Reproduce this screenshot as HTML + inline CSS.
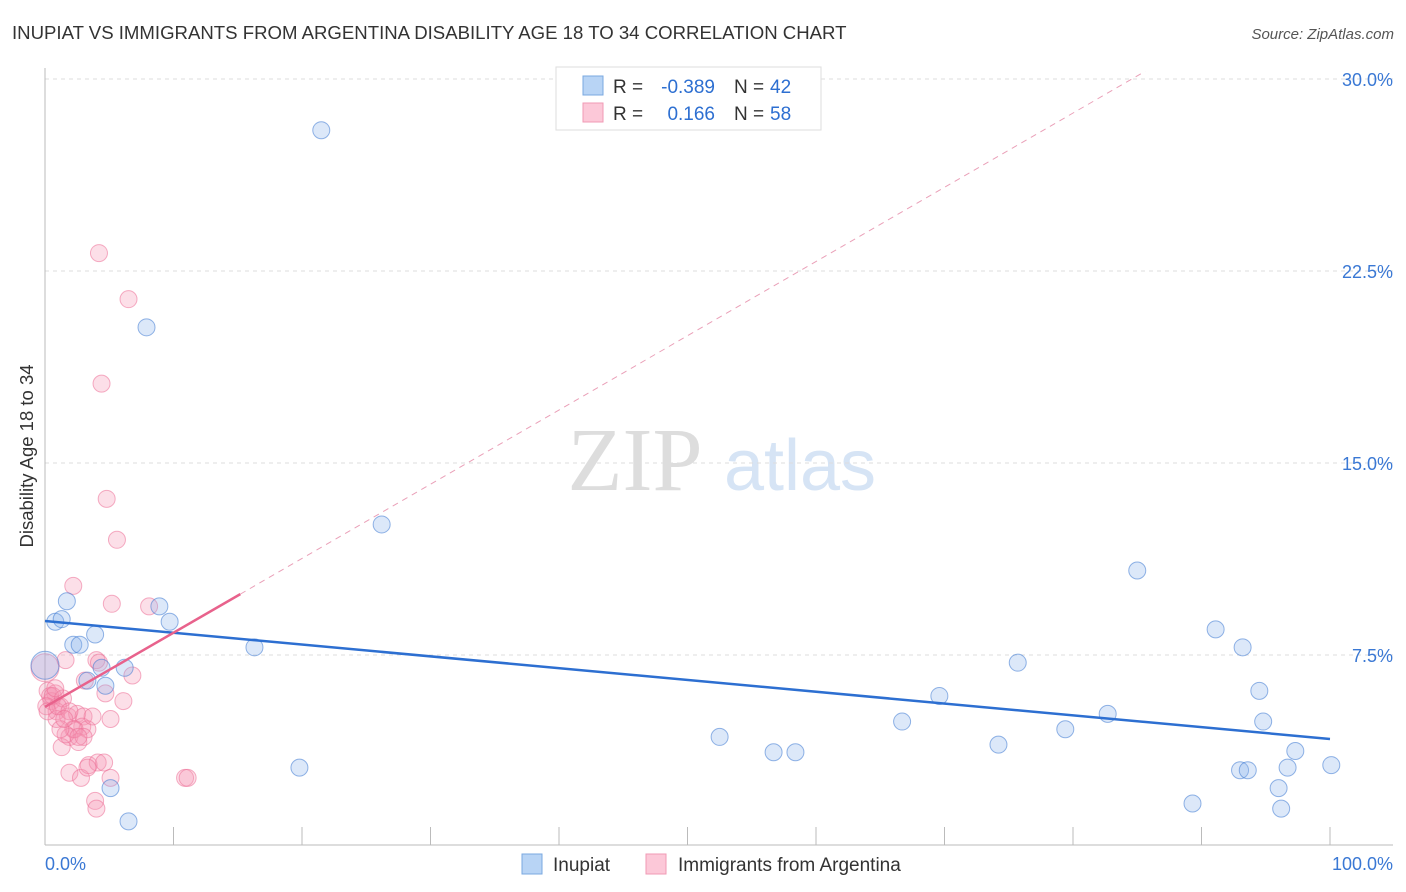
<!DOCTYPE html>
<html><head><meta charset="utf-8"><style>
body{margin:0;background:#fff;font-family:"Liberation Sans",sans-serif}
svg{display:block}
</style></head><body>
<svg id="chart" width="1406" height="892" xmlns="http://www.w3.org/2000/svg">
<text x="12" y="39" font-size="18.6" fill="#333">INUPIAT VS IMMIGRANTS FROM ARGENTINA DISABILITY AGE 18 TO 34 CORRELATION CHART</text>
<text x="1394" y="39" font-size="15" fill="#555" font-style="italic" text-anchor="end">Source: ZipAtlas.com</text>
<text x="635" y="490" font-size="90" fill="#ddd" font-family="Liberation Serif" text-anchor="middle">ZIP</text>
<text x="800" y="490" font-size="72" fill="#d6e4f5" text-anchor="middle">atlas</text>
<g id="grid"></g><g id="axes"></g><g id="pts"></g><g id="lines"></g>
<text x="33" y="456" font-size="18.5" fill="#333" text-anchor="middle" transform="rotate(-90 33 456)">Disability Age 18 to 34</text>
<text x="45" y="870" font-size="18" fill="#3a78d4">0.0%</text>
<text x="1393" y="870" font-size="18" fill="#3a78d4" text-anchor="end">100.0%</text>
<g font-size="19">
<rect x="556" y="67" width="265" height="63" fill="#fff" stroke="#ddd"/>
<rect x="583" y="76" width="20" height="19" fill="#b8d4f5" stroke="#7aa8e0"/>
<rect x="583" y="103" width="20" height="19" fill="#fcc8d8" stroke="#f09ab4"/>
<text x="613" y="93" fill="#333">R =</text>
<text x="715" y="93" fill="#2d6fd1" text-anchor="end">-0.389</text>
<text x="734" y="93" fill="#333">N =</text>
<text x="770" y="93" fill="#2d6fd1">42</text>
<text x="613" y="120" fill="#333">R =</text>
<text x="715" y="120" fill="#2d6fd1" text-anchor="end">0.166</text>
<text x="734" y="120" fill="#333">N =</text>
<text x="770" y="120" fill="#2d6fd1">58</text>
</g>
<g>
<rect x="522" y="854" width="20" height="20" fill="#b8d4f5" stroke="#7aa8e0"/>
<text x="553" y="871" font-size="19" fill="#333">Inupiat</text>
<rect x="646" y="854" width="20" height="20" fill="#fcc8d8" stroke="#f09ab4"/>
<text x="678" y="871" font-size="19" fill="#333">Immigrants from Argentina</text>
</g>
</svg>
<script>
const yTicks=[7.5,15,22.5,30];
const yTickLabels=["7.5%","15.0%","22.5%","30.0%"];
const blueX=[21.5,7.9,26.2,0.8,1.3,1.7,3.9,8.9,9.7,2.2,2.7,4.4,6.2,3.3,4.7,0,16.3,5.1,6.5,19.8,52.5,56.7,58.4,66.7,69.6,74.2,75.7,79.4,82.7,85.0,89.3,91.1,93.2,93.0,93.6,94.5,94.8,96.0,96.7,97.3,96.2,100.1];
const blueY=[28.0,20.3,12.6,8.8,8.9,9.6,8.3,9.4,8.8,7.9,7.9,7.0,7.0,6.5,6.3,7.1,7.8,2.3,1.0,3.1,4.3,3.7,3.7,4.9,5.9,4.0,7.2,4.6,5.2,10.8,1.7,8.5,7.8,3.0,3.0,6.1,4.9,2.3,3.1,3.75,1.5,3.2];
const pinkX=[4.2,6.5,4.4,4.8,5.6,2.2,5.2,8.1,1.6,4.0,4.2,3.1,4.7,6.8,6.1,0,0.2,0.8,0.5,1.2,0.9,1.8,0.9,2.5,3.0,2.9,3.3,2.2,1.9,2.6,1.3,1.9,2.8,3.4,4.1,3.3,4.6,5.1,3.9,4.0,10.9,11.1,0.4,0.6,0.1,0.2,1.4,2.3,1.6,1.0,0.8,1.9,3.0,1.2,2.6,5.1,1.5,3.7];
const pinkY=[23.2,21.4,18.1,13.6,12.0,10.2,9.5,9.4,7.3,7.3,7.2,6.5,6.0,6.7,5.7,7.0,6.1,6.0,5.7,5.5,5.3,5.1,5.0,5.2,5.1,4.7,4.6,4.6,4.3,4.1,3.9,2.9,2.7,3.2,3.3,3.1,3.3,2.7,1.8,1.5,2.7,2.7,5.9,5.9,5.5,5.3,5.8,4.6,4.4,5.5,6.2,5.3,4.3,4.6,4.3,5.0,5.0,5.1];
const blueTrend=[8.83,4.22];   // value at x=0 and x=100
const pinkTrend=[5.47,0.29]; // intercept, slope per %
const pinkSolidEnd=15.2;
const NS="http://www.w3.org/2000/svg";
const X=v=>45+v*12.85, Y=v=>847-v*25.6;
function mk(p,t,a){const e=document.createElementNS(NS,t);for(const k in a)e.setAttribute(k,a[k]);document.getElementById(p).appendChild(e);return e;}
yTicks.forEach((t,i)=>{
 const g=mk('grid','line',{x1:45,x2:1393,y1:Y(t),y2:Y(t),stroke:'#ddd','stroke-dasharray':'4,4'});
 
 
 const l=mk('grid','text',{x:1393,y:Y(t)+7,'font-size':18,fill:'#3a78d4','text-anchor':'end'});
 l.textContent=yTickLabels[i];
 
 
});
const ax=mk('axes','line',{x1:45,x2:45,y1:68,y2:845,stroke:'#bbb'});


const bx=mk('axes','line',{x1:45,x2:1393,y1:845,y2:845,stroke:'#bbb'});


for(let i=1;i<=10;i++){const t=mk('axes','line',{x1:X(i*10),x2:X(i*10),y1:827,y2:845,stroke:'#bbb'});
 
 }
pinkX.forEach((v,i)=>{const c=mk('pts','circle',{cx:X(v),cy:Y(pinkY[i]),r:v===0?14:8.5,fill:'rgba(246,150,180,0.3)',stroke:'rgba(236,110,150,0.55)'});
 
 });
blueX.forEach((v,i)=>{const c=mk('pts','circle',{cx:X(v),cy:Y(blueY[i]),r:v===0?14:8.5,fill:'rgba(140,180,235,0.3)',stroke:'rgba(60,120,210,0.55)'});
 
 });
const bl=mk('lines','line',{x1:X(0),y1:Y(blueTrend[0]),x2:X(100),y2:Y(blueTrend[1]),stroke:'#2d6fd1','stroke-width':2.5});


const py=x=>pinkTrend[0]+pinkTrend[1]*x;
const xEnd=(30.3-pinkTrend[0])/pinkTrend[1];
const pd=mk('lines','line',{x1:X(pinkSolidEnd),y1:Y(py(pinkSolidEnd)),x2:X(xEnd),y2:Y(py(xEnd)),stroke:'#eaa0b8','stroke-width':1,'stroke-dasharray':'6,5'});


const pl=mk('lines','line',{x1:X(0),y1:Y(py(0)),x2:X(pinkSolidEnd),y2:Y(py(pinkSolidEnd)),stroke:'#e8628c','stroke-width':2.5});


</script>
</body></html>
